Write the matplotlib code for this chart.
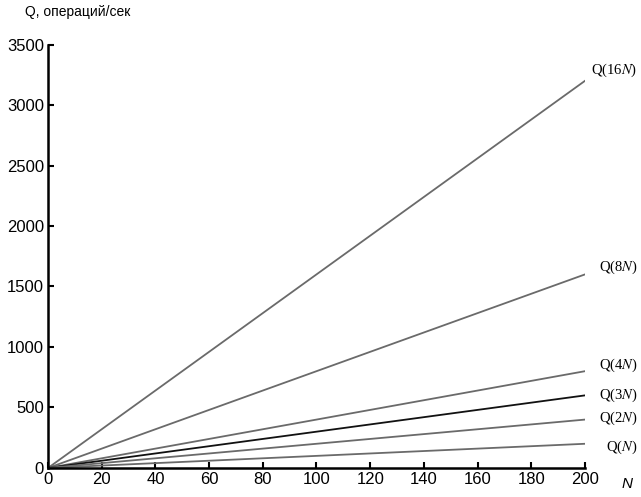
import matplotlib.pyplot as plt

plt.rcParams['mathtext.fontset'] = 'stix'

n_vals = [0, 200]
labels = ['Q(16$N$)', 'Q(8$N$)', 'Q(4$N$)', 'Q(3$N$)', 'Q(2$N$)', 'Q($N$)']
q_start = [0, 0, 0, 0, 0, 0]
q_end = [3200, 1600, 800, 600, 400, 200]
colors = ['#6a6a6a', '#6a6a6a', '#6a6a6a', '#111111', '#6a6a6a', '#6a6a6a']
label_y = [3290, 1660, 850, 600, 410, 170]

fig = plt.figure(figsize=(6.41, 4.97), dpi=100)
ax = fig.add_axes([0.0749, 0.0584, 0.8377, 0.852])

for lab, q0, q1, c, ly in zip(labels, q_start, q_end, colors, label_y):
    ax.plot(n_vals, [q0, q1], color=c, lw=1.3)
    ax.text(219.5, ly, lab, ha='right', va='center', fontsize=10.5,
            family='Liberation Serif', clip_on=False)

ax.set_xlim(0, 200)
ax.set_ylim(0, 3500)
ax.set_xticks(range(0, 201, 20))
ax.set_yticks(range(0, 3501, 500))
for s in ['top', 'right']:
    ax.spines[s].set_visible(False)
for s in ['left', 'bottom']:
    ax.spines[s].set_linewidth(1.8)
ax.tick_params(direction='in', length=4, width=1.5, labelsize=12, pad=3)
for t in ax.get_xticklabels() + ax.get_yticklabels():
    t.set_family('Liberation Sans')

fig.text(25 / 641, 1 - 12 / 497, 'Q, операций/сек', fontsize=10,
         family='Liberation Sans', va='center', ha='left')
fig.text(627 / 641, 1 - 484 / 497, 'N', fontsize=11, style='italic',
         family='Liberation Sans', va='center', ha='center')

fig.savefig('out.png')
